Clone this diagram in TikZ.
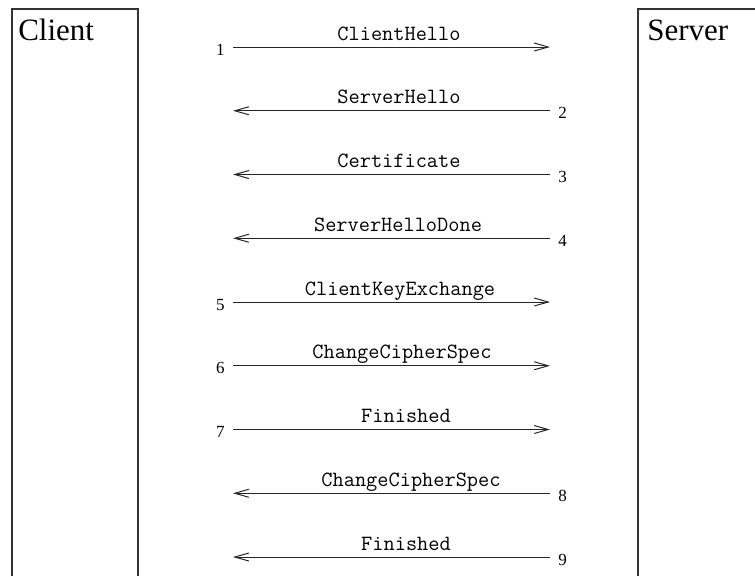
\documentclass[tikz,border=0pt]{standalone}
\usepackage{fontspec}
\setmainfont{Liberation Serif}
\usetikzlibrary{arrows.meta}

\begin{document}
\begin{tikzpicture}[x=0.75pt,y=0.75pt,yscale=-1,xscale=1,
  msg/.style={draw=black!85, line width=0.75pt, -{Straight Barb[length=10.5pt,width=6pt,line width=0.75pt]}},
  lane/.style={draw=black!80, line width=1.1pt},
  msgtext/.style={anchor=base, inner sep=0pt, font=\ttfamily\fontsize{16.3}{18}\selectfont},
  lnum/.style={anchor=base east, inner sep=0pt, xshift=-6pt, yshift=-6pt, font=\fontsize{12.75}{14}\selectfont},
  rnum/.style={anchor=base west, inner sep=0pt, xshift=6pt, yshift=-6pt, font=\fontsize{12.75}{14}\selectfont},
  party/.style={anchor=base west, inner sep=0pt, font=\fontsize{23.25}{26}\selectfont}]
\useasboundingbox (0,0) rectangle (755,576);

%Client lane
\draw [lane] (12,576) -- (12,9) -- (138,9) -- (138,576) ;
%Server lane
\draw [lane] (638,576) -- (638,9) -- (755,9) ;

% Text Node
\node [party] (client) at (18,40) {Client};
% Text Node
\node [party] (server) at (647,40) {Server};

%Messages
\foreach \i/\y/\txt/\lx/\src/\dst in {%
    1/47/ClientHello/399/l/r,
    2/110.75/ServerHello/399/r/l,
    3/174.5/Certificate/399/r/l,
    4/238.25/ServerHelloDone/398/r/l,
    5/302/ClientKeyExchange/400/l/r,
    6/365.75/ChangeCipherSpec/402/l/r,
    7/429.5/Finished/406/l/r,
    8/493.25/ChangeCipherSpec/411/r/l,
    9/557/Finished/406/r/l}{
  \coordinate (l\i) at (233,\y);
  \coordinate (r\i) at (550,\y);
  \draw [msg] (\src\i) -- (\dst\i) ;
  \node [\src num] (n\i) at (\src\i) {\i};
  \node [msgtext] (m\i) at (\lx,\y-7) {\txt};
}

\end{tikzpicture}
\end{document}
